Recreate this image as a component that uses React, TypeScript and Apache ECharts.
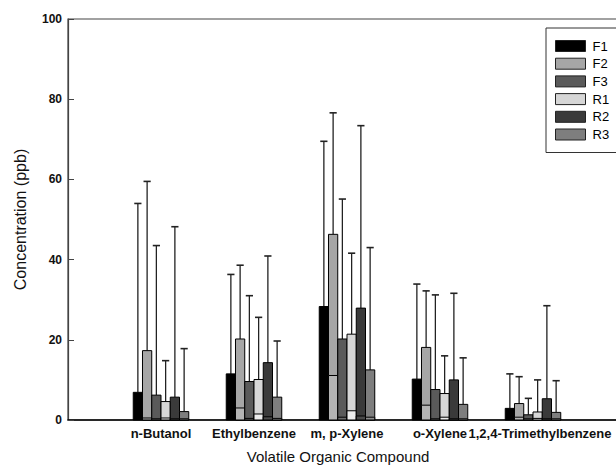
import React, { useEffect, useRef } from "react";
import * as echarts from "echarts";

const categoryNames = ["n-Butanol", "Ethylbenzene", "m, p-Xylene", "o-Xylene", "1,2,4-Trimethylbenzene"];
const axisCategories = ["", ...categoryNames, ""];
const labelShifts = [0, 0, 0, 0, 14];

const seriesNames = ["F1", "F2", "F3", "R1", "R2", "R3"];
const seriesColors = ["#000000", "#a6a6a6", "#5a5a5a", "#d6d6d6", "#3a3a3a", "#7e7e7e"];
const innerColors = ["#1a1a1a", "#b4b4b4", "#6a6a6a", "#ececec", "#4a4a4a", "#8e8e8e"];

// mean concentrations (ppb)
const meanF1 = [6.9, 11.5, 28.3, 10.2, 2.9];
const meanF2 = [17.3, 20.2, 46.3, 18.1, 4.1];
const meanF3 = [6.2, 9.6, 20.2, 7.6, 1.3];
const meanR1 = [4.6, 10.1, 21.4, 6.6, 2.0];
const meanR2 = [5.7, 14.3, 27.9, 10.0, 5.3];
const meanR3 = [2.1, 5.7, 12.5, 3.9, 1.9];

// upper error bar limits (ppb)
const upperF1 = [54.0, 36.3, 69.5, 33.9, 11.5];
const upperF2 = [59.5, 38.6, 76.6, 32.2, 10.8];
const upperF3 = [43.5, 31.0, 55.1, 31.2, 5.4];
const upperR1 = [14.8, 25.6, 41.6, 16.0, 10.0];
const upperR2 = [48.2, 40.9, 73.4, 31.6, 28.5];
const upperR3 = [17.8, 19.7, 43.0, 15.5, 9.8];

// lower (inner) segment values (ppb)
const innerF1 = [0, 0, 0, 0, 0];
const innerF2 = [0.5, 3.0, 11.1, 3.7, 0.7];
const innerF3 = [0.3, 0.4, 0.7, 0.3, 0.3];
const innerR1 = [0.5, 1.5, 2.3, 0.7, 0.4];
const innerR2 = [0.3, 0.8, 1.0, 0.3, 0.3];
const innerR3 = [0.3, 0.4, 0.7, 0.3, 0.3];

const yTicks = [0, 20, 40, 60, 80, 100];

const means = [meanF1, meanF2, meanF3, meanR1, meanR2, meanR3];
const uppers = [upperF1, upperF2, upperF3, upperR1, upperR2, upperR3];
const inners = [innerF1, innerF2, innerF3, innerR1, innerR2, innerR3];

const FONT = "'Liberation Sans', Arial, sans-serif";

export default function App() {
  const ref = useRef<HTMLDivElement>(null);
  useEffect(() => {
    if (!ref.current) return;
    const chart = echarts.init(ref.current, null, { renderer: "svg" });
    const nSeries = seriesNames.length;
    const rich: any = {};
    labelShifts.forEach((s, i) => {
      rich["c" + i] = {
        fontFamily: FONT,
        fontSize: 13,
        fontWeight: "bold",
        color: "#111",
        padding: s >= 0 ? [0, 0, 0, s] : [0, -s, 0, 0],
      };
    });
    const series = seriesNames.map((name, si) => ({
      type: "custom",
      name,
      itemStyle: { color: seriesColors[si], borderColor: "#000", borderWidth: 1 },
      data: categoryNames.map((_, ci) => [ci + 1, means[si][ci], uppers[si][ci], inners[si][ci]]),
      renderItem: (params: any, api: any) => {
        const cat = api.value(0);
        const v = api.value(1);
        const top = api.value(2);
        const inner = api.value(3);
        const base = api.coord([cat, 0]);
        const next = api.coord([cat + 1, 0]);
        const band = Math.abs(next[0] - base[0]);
        const barW = (band * 0.597) / nSeries;
        const x0 = base[0] + (si - nSeries / 2) * barW;
        const pv = api.coord([cat, v]);
        const pt = api.coord([cat, top]);
        const pi = api.coord([cat, inner]);
        const cx = x0 + barW / 2;
        const children: any[] = [
          {
            type: "line",
            shape: { x1: cx, y1: pv[1], x2: cx, y2: pt[1] },
            style: { stroke: "#222", lineWidth: 1.3 },
          },
          {
            type: "line",
            shape: { x1: cx - 3.6, y1: pt[1], x2: cx + 3.6, y2: pt[1] },
            style: { stroke: "#222", lineWidth: 1.6 },
          },
          {
            type: "rect",
            shape: { x: x0, y: pv[1], width: barW, height: base[1] - pv[1] },
            style: { fill: seriesColors[si], stroke: "#000", lineWidth: 1 },
          },
        ];
        if (inner > 0) {
          children.push({
            type: "rect",
            shape: { x: x0, y: pi[1], width: barW, height: base[1] - pi[1] },
            style: { fill: innerColors[si], stroke: "#000", lineWidth: 1 },
          });
        }
        return { type: "group", children };
      },
    }));

    chart.setOption({
      animation: false,
      grid: {
        left: 68,
        top: 19,
        height: 401,
        width: 558,
        outerBoundsMode: "none",
        containLabel: false,
        show: true,
        borderColor: "#444",
        borderWidth: 1.2,
        backgroundColor: "transparent",
      },
      legend: {
        orient: "vertical",
        left: 546,
        top: 28,
        icon: "rect",
        itemWidth: 30,
        itemHeight: 11,
        itemGap: 4.7,
        padding: [11.5, 30, 11.5, 9],
        borderColor: "#333",
        borderWidth: 1,
        backgroundColor: "#fff",
        itemStyle: { borderColor: "#222", borderWidth: 1 },
        textStyle: { fontFamily: FONT, fontSize: 13, color: "#000", padding: [0, 0, 0, 2] },
        data: seriesNames,
      },
      xAxis: {
        type: "category",
        data: axisCategories,
        boundaryGap: false,
        name: "Volatile Organic Compound",
        nameLocation: "middle",
        nameGap: 29,
        nameTextStyle: { fontFamily: FONT, fontSize: 15, color: "#111", padding: [0, 18, 0, 0] },
        axisLine: { show: true, lineStyle: { color: "#000", width: 1.5 } },
        axisTick: { show: false },
        splitLine: { show: false },
        axisLabel: {
          margin: 7,
          interval: 0,
          hideOverlap: false,
          formatter: (val: string) => {
            const i = categoryNames.indexOf(val);
            return i < 0 ? "" : "{c" + i + "|" + val + "}";
          },
          rich,
        },
      },
      yAxis: {
        type: "value",
        min: yTicks[0],
        max: yTicks[yTicks.length - 1],
        interval: 20,
        name: "Concentration (ppb)",
        nameLocation: "middle",
        nameGap: 40,
        nameTextStyle: { fontFamily: FONT, fontSize: 16, color: "#111" },
        axisLine: { show: true, lineStyle: { color: "#444", width: 1.2 } },
        axisTick: { show: true, inside: true, length: 6, lineStyle: { color: "#444" } },
        splitLine: { show: false },
        axisLabel: { fontFamily: FONT, fontSize: 12, fontWeight: "bold", color: "#111", margin: 6 },
      },
      series,
    });
    return () => chart.dispose();
  }, []);
  return <div ref={ref} style={{ width: 616, height: 469, position: "absolute", left: 0, top: 0 }} />;
}
